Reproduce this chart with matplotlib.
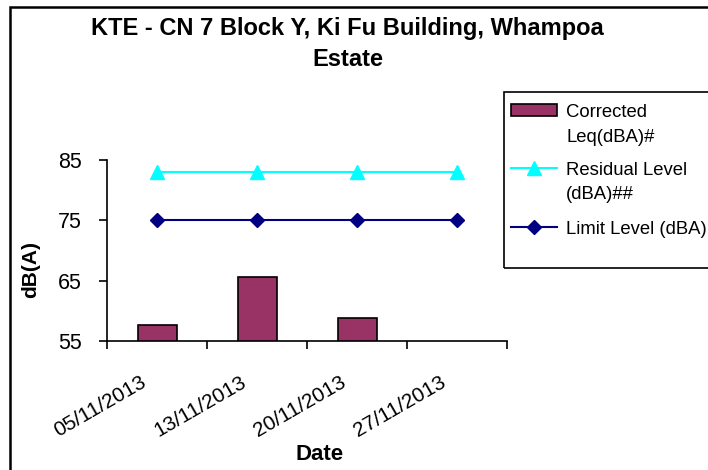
import matplotlib
matplotlib.use("Agg")
import matplotlib.pyplot as plt
import numpy as np
from matplotlib.patches import Rectangle
from matplotlib.lines import Line2D
from matplotlib.transforms import ScaledTranslation

plt.rcParams['font.family'] = ['Liberation Sans', 'DejaVu Sans']

dates = ["05/11/2013", "13/11/2013", "20/11/2013", "27/11/2013"]
corrected_leq = [57.7, 65.6, 58.8, np.nan]
residual_level = [83, 83, 83, 83]
limit_level = [75, 75, 75, 75]

BAR_COLOR = '#993366'
RES_COLOR = '#00FFFF'
LIM_COLOR = '#000080'

W, H = 708, 470
fig = plt.figure(figsize=(W / 100, H / 100), dpi=100)
fig.patch.set_facecolor('white')


def fy(py):
    return 1 - py / H


def fx(px):
    return px / W


# outer chart border
fig.add_artist(Rectangle((fx(10), -0.05), 1.2, fy(7) + 0.05, transform=fig.transFigure,
                         fill=False, edgecolor='black', linewidth=1.8))

ax = fig.add_axes([fx(107), fy(341), 400 / W, 181 / H])
x = np.arange(len(dates))
ax.bar(x, corrected_leq, width=0.39, color=BAR_COLOR, edgecolor='black', linewidth=1.2, zorder=2)
ax.plot(x, residual_level, color=RES_COLOR, marker='^', markersize=10, linewidth=1.5, zorder=3)
ax.plot(x, limit_level, color=LIM_COLOR, marker='D', markersize=7, linewidth=1.5, zorder=3)

ax.set_ylim(55, 85)
ax.set_xlim(-0.5, len(dates) - 0.5)
ax.set_yticks([55, 65, 75, 85])
ax.tick_params(axis='y', labelsize=15.5, length=6, width=1.2, direction='out', pad=12)
ax.set_xticks(x)
ax.set_xticklabels(dates, rotation=30, ha='right', va='top', rotation_mode='anchor', fontsize=15)
ax.tick_params(axis='x', length=0, pad=23)
off = ScaledTranslation(-17 / 100, 0, fig.dpi_scale_trans)
for lab in ax.get_xticklabels():
    lab.set_transform(lab.get_transform() + off)
ax.set_xticks(np.arange(-0.5, len(dates), 1.0), minor=True)
ax.tick_params(axis='x', which='minor', length=6, width=1.2, direction='out')
for s in ['top', 'right']:
    ax.spines[s].set_visible(False)
for s in ['left', 'bottom']:
    ax.spines[s].set_linewidth(1.2)

fig.text(fx(31), fy(270), 'dB(A)', rotation=90, ha='center', va='center',
         fontsize=15, fontweight='bold')
fig.text(fx(320), fy(454), 'Date', ha='center', va='center',
         fontsize=16, fontweight='bold')

fig.text(fx(347.5), fy(35), 'KTE - CN 7 Block Y, Ki Fu Building, Whampoa',
         ha='center', va='baseline', fontsize=17, fontweight='bold')
fig.text(fx(347.5), fy(66), 'Estate',
         ha='center', va='baseline', fontsize=17, fontweight='bold')

# legend (drawn as figure artists)
fig.add_artist(Rectangle((fx(504), fy(268)), 0.5, (268 - 92) / H, transform=fig.transFigure,
                         fill=False, edgecolor='black', linewidth=1.2))
fig.add_artist(Rectangle((fx(511), fy(116)), 46 / W, 12 / H, transform=fig.transFigure,
                         facecolor=BAR_COLOR, edgecolor='black', linewidth=1.2))
fig.add_artist(Line2D([fx(511), fx(557)], [fy(168), fy(168)], transform=fig.transFigure,
                      color=RES_COLOR, linewidth=1.5))
fig.add_artist(Line2D([fx(534)], [fy(168)], transform=fig.transFigure,
                      color=RES_COLOR, marker='^', markersize=10, linestyle='none'))
fig.add_artist(Line2D([fx(511), fx(557)], [fy(227), fy(227)], transform=fig.transFigure,
                      color=LIM_COLOR, linewidth=1.5))
fig.add_artist(Line2D([fx(534)], [fy(227)], transform=fig.transFigure,
                      color=LIM_COLOR, marker='D', markersize=7, linestyle='none'))

legend_lines = [("Corrected", 110), ("Leq(dBA)#", 135), ("Residual Level", 168),
                ("(dBA)##", 192), ("Limit Level (dBA)", 227)]
for txt, cy in legend_lines:
    fig.text(fx(566), fy(cy + 7), txt, ha='left', va='baseline', fontsize=13.3)

fig.savefig('out.png', dpi=100)
